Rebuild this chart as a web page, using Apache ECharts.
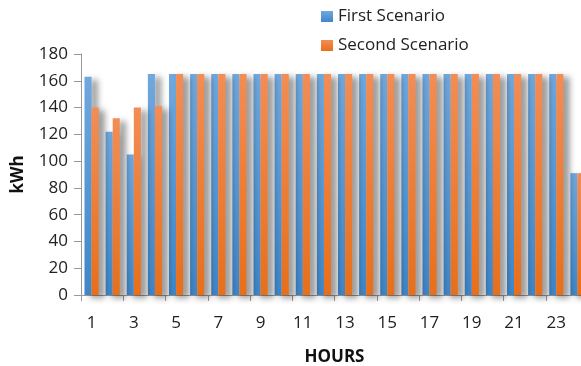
<!DOCTYPE html>
<html><head><meta charset="utf-8">
<script src="https://cdn.jsdelivr.net/npm/echarts@6/dist/echarts.min.js"></script>
<style>html,body{margin:0;padding:0;background:#fff;overflow:hidden}#c{width:581px;height:366px}</style>
</head><body><div id="c"></div>
<script>
const hours = ['1','2','3','4','5','6','7','8','9','10','11','12','13','14','15','16','17','18','19','20','21','22','23','24'];
const firstScenario = [163,122,105,165,165,165,165,165,165,165,165,165,165,165,165,165,165,165,165,165,165,165,165,91];
const secondScenario = [140,132,140,141,165,165,165,165,165,165,165,165,165,165,165,165,165,165,165,165,165,165,165,91];
const seriesNames = ['First Scenario','Second Scenario'];
const font = 'Open Sans';
const grad = (a,b)=>new echarts.graphic.LinearGradient(0,0,0,1,[{offset:0,color:a},{offset:1,color:b}]);
const shadow = {shadowColor:'rgba(0,0,0,0.42)',shadowBlur:6,shadowOffsetX:6,shadowOffsetY:3};
const chart = echarts.init(document.getElementById('c'));
chart.setOption({
  animation:false,
  textStyle:{fontFamily:font},
  legend:{orient:'vertical',left:316,top:3,itemWidth:12,itemHeight:11,itemGap:12,icon:'rect',
    textStyle:{fontSize:17,color:'#222',fontFamily:font},data:seriesNames},
  grid:{left:81,width:507,top:54,height:241,containLabel:false,outerBoundsMode:'none'},
  xAxis:{type:'category',data:hours,name:'HOURS',nameLocation:'middle',nameGap:54,
    nameTextStyle:{fontSize:17,fontWeight:'bold',color:'#111',fontFamily:font},
    axisLine:{lineStyle:{color:'#999'}},axisTick:{show:true,length:6,lineStyle:{color:'#999'}},
    axisLabel:{interval:1,fontSize:17,color:'#222',margin:20}},
  yAxis:{type:'value',min:0,max:180,interval:20,name:'kWh',nameLocation:'middle',nameGap:54,
    nameTextStyle:{fontSize:17,fontWeight:'bold',color:'#111',fontFamily:font},
    axisLine:{show:true,lineStyle:{color:'#999'}},axisTick:{show:true,length:7,lineStyle:{color:'#999'}},
    splitLine:{show:false},axisLabel:{fontSize:17,color:'#222',margin:13}},
  series:[
    {name:seriesNames[0],type:'bar',data:firstScenario,barGap:'0%',barCategoryGap:'33%',
     itemStyle:Object.assign({color:grad('#70a8de','#3f86c8')},shadow)},
    {name:seriesNames[1],type:'bar',data:secondScenario,barGap:'0%',barCategoryGap:'33%',
     itemStyle:Object.assign({color:grad('#f38d55','#e86f1a')},shadow)}
  ]
});
</script></body></html>
